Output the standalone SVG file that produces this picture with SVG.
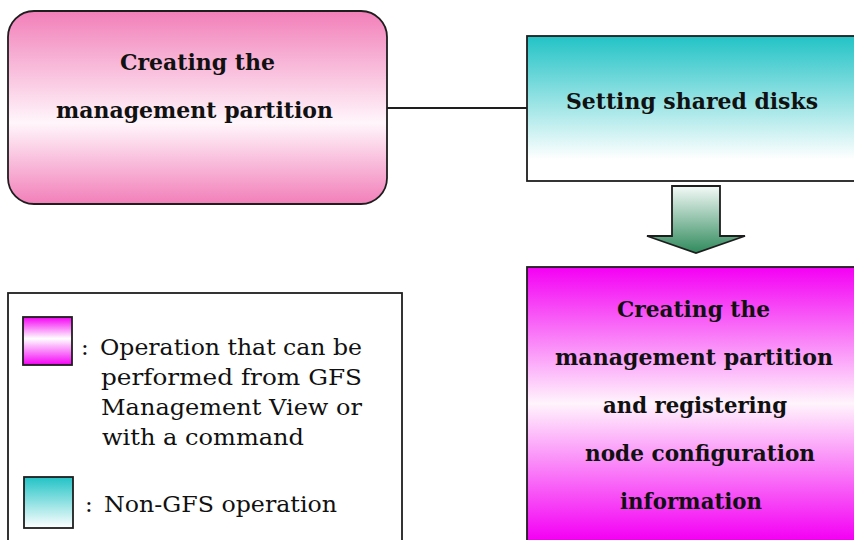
<svg xmlns="http://www.w3.org/2000/svg" width="854" height="540" viewBox="0 0 854 540">
  <defs>
    <linearGradient id="gPink" x1="0" y1="0" x2="0" y2="1">
      <stop offset="0" stop-color="#f27fb9"/>
      <stop offset="0.58" stop-color="#fff6fb"/>
      <stop offset="1" stop-color="#f27fb9"/>
    </linearGradient>
    <linearGradient id="gTeal" x1="0" y1="0" x2="0" y2="1">
      <stop offset="0" stop-color="#22c3c6"/>
      <stop offset="0.85" stop-color="#ffffff"/>
      <stop offset="1" stop-color="#ffffff"/>
    </linearGradient>
    <linearGradient id="gMag" gradientUnits="userSpaceOnUse" x1="0" y1="267" x2="0" y2="540">
      <stop offset="0" stop-color="#f400f4"/>
      <stop offset="0.5" stop-color="#fff4fc"/>
      <stop offset="1" stop-color="#f400f4"/>
    </linearGradient>
    <linearGradient id="gMagS" x1="0" y1="0" x2="0" y2="1">
      <stop offset="0" stop-color="#f400f4"/>
      <stop offset="0.45" stop-color="#ffffff"/>
      <stop offset="1" stop-color="#f400f4"/>
    </linearGradient>
    <linearGradient id="gTealS" x1="0" y1="0" x2="0" y2="1">
      <stop offset="0" stop-color="#22c3c6"/>
      <stop offset="1" stop-color="#ffffff"/>
    </linearGradient>
    <linearGradient id="gGreen" x1="0" y1="0" x2="0" y2="1">
      <stop offset="0" stop-color="#f4faf8"/>
      <stop offset="1" stop-color="#2f8a5c"/>
    </linearGradient>
  </defs>
  <style>
    .box { stroke: #1e1e1e; stroke-width: 1.8; }
    .h { font-family: "DejaVu Serif", "Liberation Serif", serif; font-weight: bold; font-size: 23px; fill: #111; }
    .t { font-family: "DejaVu Serif", "Liberation Serif", serif; font-size: 23px; fill: #111; }
    .conn { stroke: #1e1e1e; stroke-width: 1.8; fill: none; }
  </style>

  <g id="connectors">
    <line class="conn" x1="387" y1="108" x2="527" y2="108"/>
    <polygon class="box" fill="url(#gGreen)" points="672,186 720,186 720,236 745,236 696,253 647,236 672,236"/>
  </g>

  <g id="node-create-mgmt">
    <rect class="box" x="8" y="11" width="379" height="193" rx="26" ry="26" fill="url(#gPink)"/>
    <text class="h" x="120" y="70" textLength="155" lengthAdjust="spacingAndGlyphs">Creating the</text>
    <text class="h" x="56" y="118" textLength="277" lengthAdjust="spacingAndGlyphs">management partition</text>
  </g>

  <g id="node-shared-disks">
    <rect class="box" x="527" y="36" width="340" height="145" fill="url(#gTeal)"/>
    <text class="h" x="566" y="109" textLength="252" lengthAdjust="spacingAndGlyphs">Setting shared disks</text>
  </g>

  <g id="node-create-register">
    <rect class="box" x="527" y="267" width="340" height="290" fill="url(#gMag)"/>
    <text class="h" x="617" y="317" textLength="153" lengthAdjust="spacingAndGlyphs">Creating the</text>
    <text class="h" x="555" y="365" textLength="278" lengthAdjust="spacingAndGlyphs">management partition</text>
    <text class="h" x="603" y="413" textLength="184" lengthAdjust="spacingAndGlyphs">and registering</text>
    <text class="h" x="585" y="461" textLength="230" lengthAdjust="spacingAndGlyphs">node configuration</text>
    <text class="h" x="620" y="509" textLength="142" lengthAdjust="spacingAndGlyphs">information</text>
  </g>

  <g id="legend">
    <rect class="box" x="8" y="293" width="394" height="260" fill="#ffffff"/>
    <rect class="box" x="23" y="317" width="49" height="48" fill="url(#gMagS)"/>
    <text class="t" x="81" y="355">:</text>
    <text class="t" x="100" y="355" textLength="262" lengthAdjust="spacingAndGlyphs">Operation that can be</text>
    <text class="t" x="101" y="385" textLength="261" lengthAdjust="spacingAndGlyphs">performed from GFS</text>
    <text class="t" x="101" y="415" textLength="261" lengthAdjust="spacingAndGlyphs">Management View or</text>
    <text class="t" x="102" y="445" textLength="202" lengthAdjust="spacingAndGlyphs">with a command</text>
    <rect class="box" x="24" y="477" width="49" height="51" fill="url(#gTealS)"/>
    <text class="t" x="85" y="512">:</text>
    <text class="t" x="104" y="512" textLength="233" lengthAdjust="spacingAndGlyphs">Non-GFS operation</text>
  </g>
</svg>
